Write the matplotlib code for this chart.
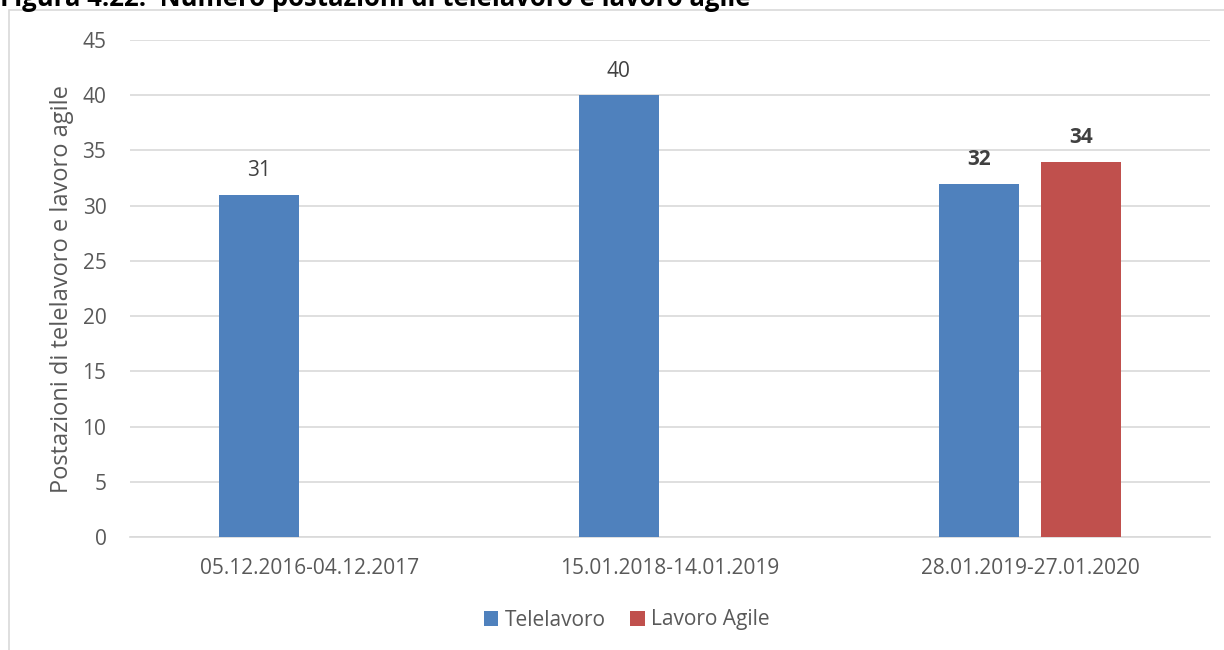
import numpy as np
import matplotlib.pyplot as plt
from matplotlib.patches import Rectangle

periodi = ["05.12.2016-04.12.2017", "15.01.2018-14.01.2019", "28.01.2019-27.01.2020"]
telelavoro = [31, 40, 32]
lavoro_agile = [np.nan, np.nan, 34]

blu = "#4F81BD"
rosso = "#C0504D"
testo = "#595959"

plt.rcParams['font.family'] = ['Open Sans', 'DejaVu Sans']

fig = plt.figure(figsize=(12.24, 6.5), dpi=100)
ax = fig.add_axes([0.1062, 0.1738, 0.8824, 0.7646])

# riquadro del grafico
fig.patches.append(Rectangle((9 / 1224, -0.01), 1.02, 1 - 10 / 650 + 0.01,
                             transform=fig.transFigure, fill=False,
                             edgecolor="#D9D9D9", linewidth=1.2))

x = np.arange(len(periodi))
w = 0.222
off = 0.142
b1 = ax.bar(x - off, telelavoro, w, color=blu, label="Telelavoro", zorder=3)
b2 = ax.bar(x + off, lavoro_agile, w, color=rosso, label="Lavoro Agile", zorder=3)

for i, v in enumerate(telelavoro):
    ax.text(x[i] - off, v + 1.2, str(v), ha="center", va="bottom", fontsize=15,
            color="#404040", fontweight="bold" if i == 2 else "normal")
for i, v in enumerate(lavoro_agile):
    if not np.isnan(v):
        ax.text(x[i] + off, v + 1.2, str(int(v)), ha="center", va="bottom", fontsize=15,
                color="#404040", fontweight="bold")

ax.set_xlim(-0.5, 2.5)
ax.set_ylim(0, 45)
ax.set_yticks(range(0, 50, 5))
ax.set_xticks(x)
ax.set_xticklabels(periodi)
ax.yaxis.grid(True, color="#D9D9D9", linewidth=1.2, zorder=0)
ax.tick_params(axis="both", length=0, labelsize=15, labelcolor=testo)
ax.tick_params(axis="y", pad=17)
ax.tick_params(axis="x", pad=15)
for s in ["top", "right", "left"]:
    ax.spines[s].set_visible(False)
ax.spines["bottom"].set_color("#D9D9D9")
ax.spines["bottom"].set_linewidth(1.2)
ax.set_ylabel("Postazioni di telelavoro e lavoro agile", fontsize=17, color=testo, labelpad=6)

fig.legend(handles=[b1, b2], loc="center", bbox_to_anchor=(0.512, 1 - 620 / 650),
           ncol=2, frameon=False, fontsize=15, labelcolor=testo,
           handlelength=0.7, handleheight=0.7, handletextpad=0.3, columnspacing=1.2)

fig.text(0.0, 1 - 6 / 650, "Figura 4.22:  Numero postazioni di telelavoro e lavoro agile",
         ha="left", va="baseline", fontsize=18.5, fontweight="bold", color="#000000")

fig.savefig("out.png", dpi=100)
